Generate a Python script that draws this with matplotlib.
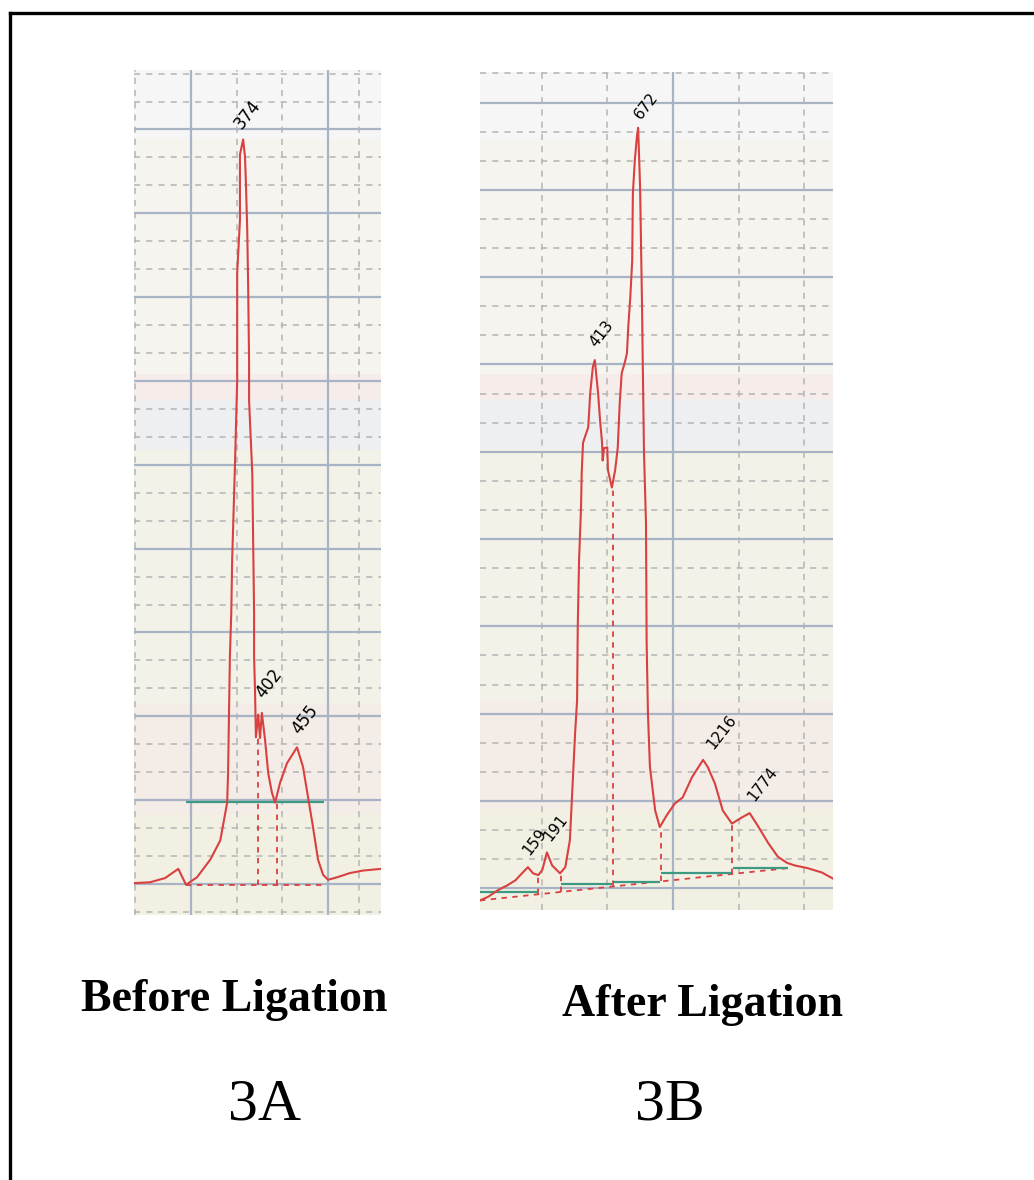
import numpy as np
import matplotlib
matplotlib.use("Agg")
import matplotlib.pyplot as plt
from matplotlib.lines import Line2D
from matplotlib.patches import Rectangle

# Datos - panel 3A (antes de la ligacion)
a_x = [-12.5, -9.0, -5.7, -2.8, -1.1, 1.3, 4.2, 6.4, 7.9, 8.1, 8.5, 8.8, 9.0, 9.6,
       10.1, 10.1, 10.7, 10.7, 11.4, 11.8, 12.0, 12.3, 12.5, 12.7, 12.7, 13.4, 13.8,
       13.8, 14.0, 14.2, 14.7, 15.1, 15.5, 16.2, 16.9, 17.7, 18.4, 19.5, 21.0, 23.2,
       24.5, 25.6, 26.7, 27.8, 28.9, 30.0, 32.0, 34.8, 37.7, 41.6]
a_y = [0.1, 0.2, 0.7, 1.8, -0.1, 0.8, 2.9, 5.2, 9.7, 13.2, 27.1, 32.3, 38.7, 49.8,
       60.1, 72.9, 79.2, 87.0, 88.8, 86.8, 83.8, 78.0, 71.2, 62.5, 57.7, 49.0, 32.3,
       27.1, 23.1, 17.5, 20.2, 17.4, 20.4, 17.2, 13.2, 10.9, 9.7, 12.1, 14.4, 16.3,
       14.0, 10.4, 6.8, 2.9, 1.1, 0.5, 0.8, 1.3, 1.6, 1.8]
a_picos = ["374", "402", "455"]
a_picos_x = [11.4, 15.5, 23.2]
a_picos_y = [88.8, 20.4, 16.3]
a_base_x = [-1.1, 29.1]
a_base_y = 9.8
a_corte_x = [14.7, 18.8]
a_corte_top = [17.4, 9.7]

# Datos - panel 3B (despues de la ligacion)
b_x = [-29.4, -28.2, -26.6, -25.3, -24.0, -23.0, -22.1, -21.3, -20.5, -19.9, -19.2,
       -18.4, -17.2, -16.4, -15.7, -15.4, -14.9, -14.6, -14.5, -14.3, -14.0, -13.9,
       -13.7, -13.4, -12.9, -12.6, -12.2, -11.9, -11.4, -11.1, -10.8, -10.7, -10.5,
       -10.0, -9.9, -9.3, -8.8, -8.4, -8.1, -7.8, -7.3, -7.0, -6.8, -6.5, -6.2, -6.1,
       -5.8, -5.5, -5.3, -5.2, -5.0, -4.7, -4.6, -4.4, -4.1, -4.0, -3.8, -3.5, -2.7,
       -2.0, -0.9, 0.3, 1.5, 2.9, 4.6, 5.3, 6.4, 7.6, 9.0, 10.5, 11.7, 12.9, 14.5,
       16.0, 17.4, 18.6, 20.5, 22.7, 24.4]
b_y = [-1.4, -1.0, -0.2, 0.3, 0.9, 1.7, 2.4, 1.7, 1.5, 2.1, 4.1, 2.6, 1.7, 2.4, 5.5,
       10.1, 17.8, 21.5, 29.9, 37.6, 43.6, 47.5, 51.0, 51.7, 52.8, 56.7, 59.7, 60.5,
       56.7, 53.6, 51.1, 49.0, 50.4, 50.5, 47.9, 45.9, 47.9, 50.5, 55.6, 59.0, 60.3,
       61.3, 64.3, 67.6, 71.9, 79.6, 83.4, 86.0, 87.1, 84.9, 80.3, 66.6, 60.5, 49.8,
       41.8, 28.1, 20.0, 13.9, 8.9, 7.0, 8.4, 9.7, 10.4, 12.7, 14.7, 13.9, 12.0, 8.9,
       7.4, 8.1, 8.6, 7.2, 5.2, 3.6, 2.9, 2.6, 2.3, 1.8, 1.1]
b_picos = ["159", "191", "413", "672", "1216", "1774"]
b_picos_x = [-22.1, -19.2, -11.9, -5.3, 4.6, 11.7]
b_picos_y = [2.4, 4.1, 60.5, 87.1, 14.7, 8.6]
b_base_x0 = [-29.4, -17.0, -9.1, -1.8, 9.1]
b_base_x1 = [-20.5, -9.3, -2.0, 9.0, 17.5]
b_base_y = [-0.4, 0.5, 0.7, 1.7, 2.3]
b_linea_x = [-29.4, 17.5]
b_linea_y = [-1.4, 2.3]
b_corte_x = [-20.5, -17.0, -9.1, -1.8, 9.0]
b_corte_top = [1.5, 1.8, 45.9, 7.0, 7.4]

titulos = ["Before Ligation", "After Ligation"]
etiquetas = ["3A", "3B"]

ROJO = "#d94040"
TEAL = "#3c9a82"
AZUL = "#a8b3c6"
GRIS = "#b4b4b4"

fig = plt.figure(figsize=(10.34, 11.8), dpi=100)
fig.patch.set_facecolor("white")

# marco exterior (solo arriba e izquierda)
fig.add_artist(Line2D([0.0092, 1.0], [0.989, 0.989], color="black", lw=2.4))
fig.add_artist(Line2D([0.0092, 0.0092], [0.0, 0.989], color="black", lw=2.4))

# bandas de fondo (fraccion de eje, color)
bandas = [(0.0, 0.12, "#f1f0e3"), (0.12, 0.25, "#f4ece6"), (0.25, 0.55, "#f3f2e8"),
          (0.55, 0.61, "#eeeff1"), (0.61, 0.64, "#f6ecea"), (0.64, 0.92, "#f5f4ee"),
          (0.92, 1.0, "#f6f6f6")]


def fondo(ax):
    for f0, f1, c in bandas:
        ax.add_patch(Rectangle((0, f0), 1, f1 - f0, transform=ax.transAxes,
                               facecolor=c, edgecolor="none", zorder=0))


def rejilla(ax, xs_sol, xs_dash, ymax):
    for k in range(0, 10):
        ax.axhline(10 * k, color=AZUL, lw=1.6, zorder=1)
    for k in range(-1, 10):
        for f in (1 / 3, 2 / 3):
            yy = 10 * k + 10 * f
            if yy < ymax:
                ax.axhline(yy, color=GRIS, lw=1.1, ls=(0, (4, 4)), zorder=1)
    for xx in xs_sol:
        ax.axvline(xx, color=AZUL, lw=1.6, zorder=1)
    for xx in xs_dash:
        ax.axvline(xx, color=GRIS, lw=1.1, ls=(0, (4, 4)), zorder=1)


def limpiar(ax):
    ax.set_xticks([])
    ax.set_yticks([])
    for s in ax.spines.values():
        s.set_visible(False)


def rotulos(ax, nombres, px, py, offs, tam):
    for n, x, y, o in zip(nombres, px, py, offs):
        ax.annotate(n, (x, y), xytext=o, textcoords="offset points",
                    rotation=52, rotation_mode="anchor", ha="left", va="bottom",
                    fontsize=tam, color="black", zorder=5)


# Panel 3A
ax1 = fig.add_axes([0.1296, 0.2246, 0.2389, 0.7161])
ax1.set_xlim(-12.5, 41.6)
ax1.set_ylim(-3.7, 97.1)
fondo(ax1)
rejilla(ax1, [0, 30], [-12.2, 10, 20, 36.8], 97.1)
ax1.hlines(a_base_y, a_base_x[0], a_base_x[1], color=TEAL, lw=1.6, zorder=3)
ax1.hlines(-0.1, a_base_x[0], a_base_x[1], color=ROJO, lw=1.3, ls=(0, (3, 3)), zorder=3)
ax1.vlines(a_corte_x, -0.1, a_corte_top, color=ROJO, lw=1.3, ls=(0, (3, 3)), zorder=3)
ax1.plot(a_x, a_y, color=ROJO, lw=1.5, zorder=4)
rotulos(ax1, a_picos, a_picos_x, a_picos_y, [(1, 5), (3, 8), (4, 7)], 12)
limpiar(ax1)

# Panel 3B
ax2 = fig.add_axes([0.4642, 0.2288, 0.3414, 0.7102])
ax2.set_xlim(-29.4, 24.4)
ax2.set_ylim(-2.5, 93.5)
fondo(ax2)
rejilla(ax2, [0], [-20, -10, 10, 20], 93.5)
ax2.plot(b_linea_x, b_linea_y, color=ROJO, lw=1.3, ls=(0, (3, 3)), zorder=3)
ax2.hlines(b_base_y, b_base_x0, b_base_x1, color=TEAL, lw=1.6, zorder=3)
b_corte_bot = np.interp(b_corte_x, b_linea_x, b_linea_y)
ax2.vlines(b_corte_x, b_corte_bot, b_corte_top, color=ROJO, lw=1.3, ls=(0, (3, 3)), zorder=3)
ax2.plot(b_x, b_y, color=ROJO, lw=1.5, zorder=4)
rotulos(ax2, b_picos, b_picos_x, b_picos_y,
        [(3, 7), (4, 6), (3, 7), (4, 4), (9, 6), (5, 7)], 11)
limpiar(ax2)

# Titulos
fig.text(234 / 1034, 1 - 1011 / 1180, titulos[0], ha="center", va="baseline",
         family="Liberation Serif", weight="bold", fontsize=33)
fig.text(703 / 1034, 1 - 1016 / 1180, titulos[1], ha="center", va="baseline",
         family="Liberation Serif", weight="bold", fontsize=33)
fig.text(265 / 1034, 1 - 1120 / 1180, etiquetas[0], ha="center", va="baseline",
         family="Liberation Serif", fontsize=43)
fig.text(670 / 1034, 1 - 1120 / 1180, etiquetas[1], ha="center", va="baseline",
         family="Liberation Serif", fontsize=43)

fig.savefig("out.png", dpi=100)
